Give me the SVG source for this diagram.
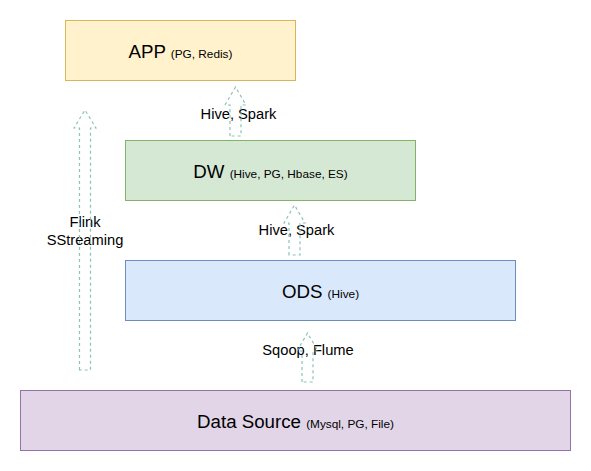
<svg xmlns="http://www.w3.org/2000/svg" width="591" height="471" viewBox="0 0 591 471">
<style>
.box{stroke-width:1}
.t{font-family:"Liberation Sans",Arial,sans-serif;fill:#000;text-anchor:middle}
.big{font-size:18.7px}
.sm{font-size:11.8px}
.lbl{font-family:"Liberation Sans",Arial,sans-serif;font-size:14.7px;fill:#000;text-anchor:middle}
.arr{fill:none;stroke:#8cc3b8;stroke-width:1.2;stroke-dasharray:3 3}
</style>
<rect width="591" height="471" fill="#fff"/>
<g id="app">
<rect class="box" x="65.5" y="20.5" width="230" height="60" fill="#fff2cc" stroke="#d6b656"/>
<text class="t" x="180.5" y="58"><tspan class="big">APP </tspan><tspan class="sm">(PG, Redis)</tspan></text>
</g>
<g id="dw">
<rect class="box" x="125.5" y="140.5" width="290" height="60" fill="#d5e8d4" stroke="#82b366"/>
<text class="t" x="270.5" y="177.5"><tspan class="big">DW </tspan><tspan class="sm">(Hive, PG, Hbase, ES)</tspan></text>
</g>
<g id="ods">
<rect class="box" x="125.5" y="260.5" width="390" height="60" fill="#dae8fc" stroke="#6c8ebf"/>
<text class="t" x="320.5" y="297.5"><tspan class="big">ODS </tspan><tspan class="sm">(Hive)</tspan></text>
</g>
<g id="datasource">
<rect class="box" x="20.5" y="390.5" width="550" height="60" fill="#e1d5e7" stroke="#9673a6"/>
<text class="t" x="295.5" y="427.5"><tspan class="big">Data Source </tspan><tspan class="sm">(Mysql, PG, File)</tspan></text>
</g>
<g id="labels">
<text class="lbl" x="85" y="226.5">Flink</text>
<text class="lbl" x="85" y="244.5">SStreaming</text>
<text class="lbl" x="238.5" y="119">Hive, Spark</text>
<text class="lbl" x="296.5" y="235">Hive, Spark</text>
<text class="lbl" x="308" y="355">Sqoop, Flume</text>
</g>
<g id="connectors">
<path class="arr" d="M79.5,370 L79.5,128 L74,128 L85,110 L96,128 L90.5,128 L90.5,370 Z"/>
<path class="arr" d="M230,136 L230,105 L225,105 L235.5,87 L246,105 L241,105 L241,136 Z"/>
<path class="arr" d="M289,255 L289,223 L284,223 L294.5,205 L305,223 L300,223 L300,255 Z"/>
<path class="arr" d="M302,382 L302,351 L297,351 L307.5,333 L318,351 L313,351 L313,382 Z"/>
</g>
</svg>
